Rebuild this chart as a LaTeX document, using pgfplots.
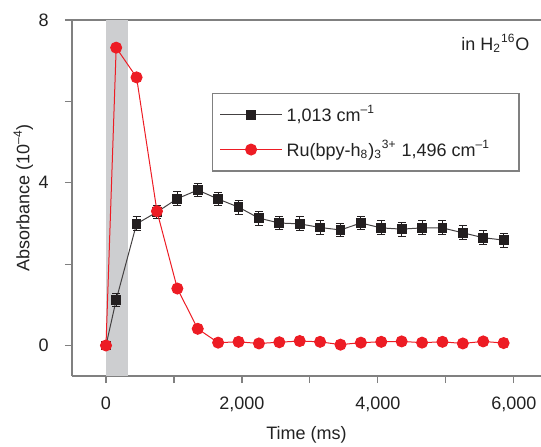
\documentclass[border=0pt]{standalone}
\usepackage{pgfplots}
\pgfplotsset{compat=1.18}
\usepackage{fontspec}
\setmainfont{Liberation Sans}
\definecolor{sqblack}{HTML}{231F20}
\definecolor{cred}{HTML}{ED1C24}
\definecolor{axgray}{HTML}{808080}
\definecolor{band}{HTML}{CDCED0}
\definecolor{txt}{HTML}{222222}
\begin{document}
\fontsize{9}{11}\selectfont
\begin{tikzpicture}
\begin{axis}[
  scale only axis, width=234.5pt, height=178pt,
  xmin=-500, xmax=6400, ymin=-0.75, ymax=8,
  axis x line*=box, axis y line*=left,
  axis line style={axgray, line width=0.6pt},
  tick align=outside, tick style={axgray, line width=0.6pt},
  major tick length=3.5pt, minor tick length=3.5pt,
  xtick={0,2000,4000,6000}, minor xtick={1000,3000,5000},
  ytick={0,4,8}, minor ytick={2,6},
  xtick pos=left, ytick pos=left,
  /pgf/number format/1000 sep={,},
  /pgf/number format/assume math mode=true,
  ticklabel style={font=\fontsize{9}{11}\selectfont, text=txt},
  yticklabel style={xshift=-5pt},
  xticklabel style={yshift=-4pt},
  xlabel={Time (ms)}, ylabel={Absorbance (10\textsuperscript{--4})},
  label style={font=\fontsize{9}{11}\selectfont, text=txt},
  xlabel style={yshift=-1pt},
  ylabel style={yshift=-3.5pt},
  legend style={at={(rel axis cs:0.2985,0.795)}, anchor=north west,
    draw=axgray, line width=0.6pt, font=\fontsize{9}{11}\selectfont, text=txt,
    inner xsep=3.5pt, inner ysep=4pt, row sep=4pt,
    every odd column/.style={column sep=3.5pt}},
  legend cell align=left,
  legend image code/.code={\draw[mark repeat=2,mark phase=2] plot coordinates {(0pt,0pt) (15.5pt,0pt) (31pt,0pt)};},
  clip=false,
]
\fill[band] (axis cs:0,-0.75) rectangle (axis cs:320,8);
\addplot[sqblack!85, line width=0.5pt, mark=square*, mark size=2.2pt,
  mark options={fill=sqblack, draw=sqblack, solid},
  error bars/.cd, y dir=both, y explicit,
  error bar style={sqblack, line width=0.5pt},
  error mark options={rotate=90, mark size=2pt, sqblack, line width=0.5pt}]
coordinates {
(0,0) +- (0,0.05)
(150,1.12) +- (0,0.17)
(450,2.99) +- (0,0.17)
(750,3.28) +- (0,0.17)
(1050,3.61) +- (0,0.17)
(1350,3.82) +- (0,0.17)
(1650,3.60) +- (0,0.17)
(1950,3.40) +- (0,0.17)
(2250,3.13) +- (0,0.17)
(2550,3.01) +- (0,0.17)
(2850,2.99) +- (0,0.17)
(3150,2.90) +- (0,0.17)
(3450,2.84) +- (0,0.17)
(3750,3.01) +- (0,0.17)
(4050,2.89) +- (0,0.17)
(4350,2.86) +- (0,0.17)
(4650,2.89) +- (0,0.17)
(4950,2.89) +- (0,0.17)
(5250,2.77) +- (0,0.17)
(5550,2.65) +- (0,0.17)
(5850,2.59) +- (0,0.17)
};
\addlegendentry{1,013 cm\textsuperscript{--1}}
\addplot[cred, line width=0.5pt, mark=*, mark size=2.75pt,
  mark options={fill=cred, draw=cred, solid},
  error bars/.cd, y dir=both, y explicit,
  error bar style={cred!60, line width=0.5pt},
  error mark options={rotate=90, mark size=2pt, cred!60, line width=0.5pt}]
coordinates {
(0,0) +- (0,0.05)
(150,7.32) +- (0,0.1)
(450,6.59) +- (0,0.1)
(750,3.30) +- (0,0.1)
(1050,1.40) +- (0,0.1)
(1350,0.41) +- (0,0.1)
(1650,0.07) +- (0,0.1)
(1950,0.09) +- (0,0.1)
(2250,0.05) +- (0,0.1)
(2550,0.08) +- (0,0.1)
(2850,0.11) +- (0,0.1)
(3150,0.09) +- (0,0.1)
(3450,0.02) +- (0,0.1)
(3750,0.07) +- (0,0.1)
(4050,0.09) +- (0,0.1)
(4350,0.10) +- (0,0.1)
(4650,0.07) +- (0,0.1)
(4950,0.09) +- (0,0.1)
(5250,0.05) +- (0,0.1)
(5550,0.10) +- (0,0.1)
(5850,0.06) +- (0,0.1)
};
\addlegendentry{Ru(bpy-h\textsubscript{8})\textsubscript{3}\textsuperscript{3+} 1,496 cm\textsuperscript{--1}\hspace*{9pt}}
\node[anchor=east, text=txt, font=\fontsize{9}{11}\selectfont] at (rel axis cs:0.989,0.935) {in H\textsubscript{2}\textsuperscript{16}O};
\end{axis}
\pgfresetboundingbox
\path[use as bounding box] (-36pt,-35pt) rectangle (234.5pt,188pt);
\end{tikzpicture}
\end{document}
